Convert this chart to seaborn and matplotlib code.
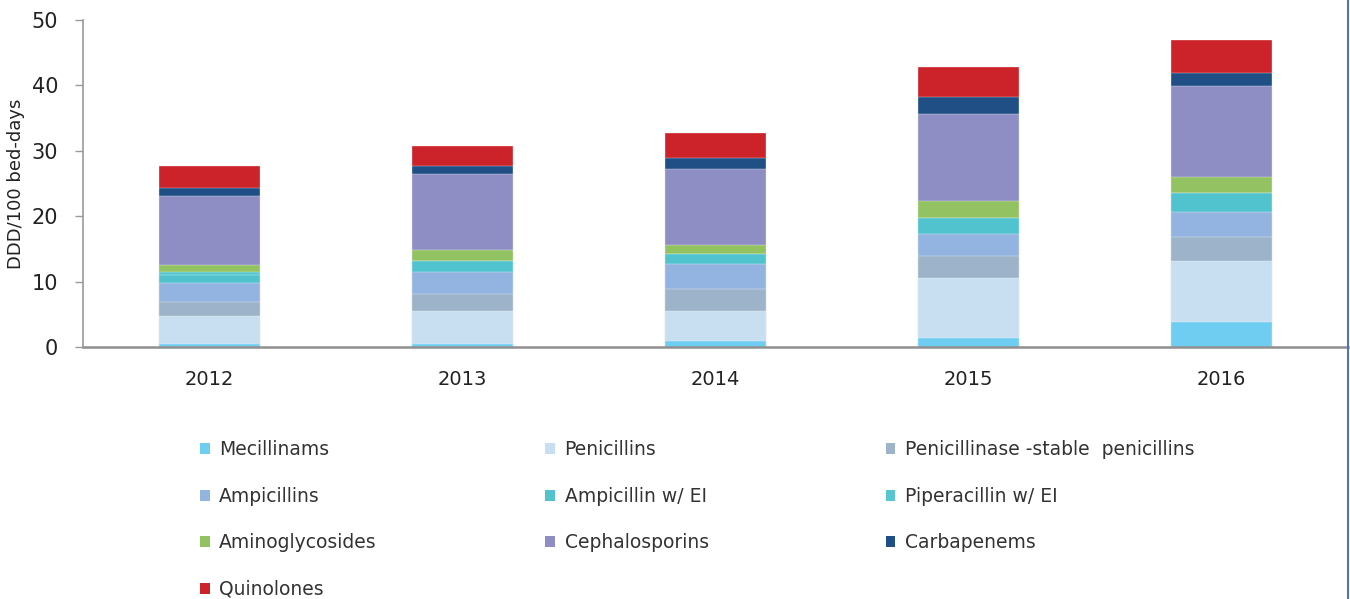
import numpy as np
import pandas as pd
import seaborn as sns
import matplotlib.pyplot as plt
from matplotlib.patches import Patch
from matplotlib.lines import Line2D

# DDD/100 bed-days by antibiotic class
years = ['2012', '2013', '2014', '2015', '2016']
classes = ['Mecillinams', 'Penicillins', 'Penicillinase -stable  penicillins',
           'Ampicillins', 'Ampicillin w/ EI', 'Piperacillin w/ EI',
           'Aminoglycosides', 'Cephalosporins', 'Carbapenems', 'Quinolones']
colors = ['#6fcdf2', '#c8dff2', '#9cb3c9', '#93b4e0', '#50c3cf',
          '#56c7d1', '#92c262', '#8e8ec4', '#1f4f85', '#cc2229']

mecillinams = [0.5, 0.5, 1.0, 1.45, 3.95]
penicillins = [4.3, 5.1, 4.6, 9.15, 9.2]
penicillinase_stable = [2.1, 2.5, 3.35, 3.3, 3.75]
ampicillins = [2.95, 3.35, 3.75, 3.4, 3.75]
ampicillin_ei = [1.15, 1.7, 1.55, 2.5, 2.9]
piperacillin_ei = [0.45, 0.0, 0.0, 0.0, 0.0]
aminoglycosides = [1.2, 1.7, 1.35, 2.5, 2.5]
cephalosporins = [10.45, 11.65, 11.65, 13.35, 13.8]
carbapenems = [1.3, 1.25, 1.7, 2.55, 2.05]
quinolones = [3.35, 3.0, 3.75, 4.6, 5.05]

series = [mecillinams, penicillins, penicillinase_stable, ampicillins,
          ampicillin_ei, piperacillin_ei, aminoglycosides, cephalosporins,
          carbapenems, quinolones]

# stacked look: draw cumulative totals, tallest first, each covering the lower part
cum = np.cumsum(np.array(series), axis=0)
rows = []
for i in reversed(range(len(classes))):
    for j, yr in enumerate(years):
        rows.append({'year': yr, 'cls': classes[i], 'cum': cum[i, j]})
df = pd.DataFrame(rows)

sns.set_style('white')
plt.rcParams['font.family'] = ['DejaVu Sans']

fig, ax = plt.subplots(figsize=(13.5, 5.99), dpi=100)
fig.subplots_adjust(left=0.0615, right=0.9985, top=0.9666, bottom=0.42)

sns.barplot(data=df, x='year', y='cum', hue='cls', hue_order=classes[::-1],
            palette=dict(zip(classes, colors)), dodge=False, width=0.4,
            saturation=1, edgecolor='#f4f4f4', linewidth=0.25, legend=False, ax=ax)

ax.set_xlim(-0.5, 4.5)
ax.set_ylim(0, 50)
ax.set_yticks([0, 10, 20, 30, 40, 50])
ax.set_xlabel('')
ax.set_ylabel('DDD/100 bed-days', fontsize=13, color='#222222')
ax.yaxis.set_label_coords(-0.046, 0.5)

ax.tick_params(axis='y', left=True, length=6, width=1, color='#9a9a9a',
               pad=12, labelsize=15, labelcolor='#222222')
ax.tick_params(axis='x', bottom=False, pad=13, labelsize=14, labelcolor='#222222')

for s in ['top', 'right']:
    ax.spines[s].set_visible(False)
ax.spines['left'].set_color('#9a9a9a')
ax.spines['left'].set_linewidth(1.2)
ax.spines['bottom'].set_color('#8f8f8f')
ax.spines['bottom'].set_linewidth(1.8)

# legend: three columns, filled row by row
legend_font = {'family': ['DejaVu Sans'], 'size': 13.5}
columns = [[0, 3, 6, 9], [1, 4, 7], [2, 5, 8]]
col_x = [0.148, 0.404, 0.656]
for idx, xpos in zip(columns, col_x):
    handles = [Patch(facecolor=colors[k], edgecolor='none', label=classes[k]) for k in idx]
    leg = fig.legend(handles=handles, loc='upper left', bbox_to_anchor=(xpos, 0.265),
                     frameon=False, prop=legend_font, handlelength=0.52,
                     handleheight=0.52, handletextpad=0.5, labelspacing=1.47,
                     borderpad=0, borderaxespad=0, labelcolor='#333333')

fig.add_artist(Line2D([0.9985, 0.9985], [0, 1], transform=fig.transFigure,
                      color='#4f74b8', lw=1.5))

fig.savefig('out.png', dpi=100)
